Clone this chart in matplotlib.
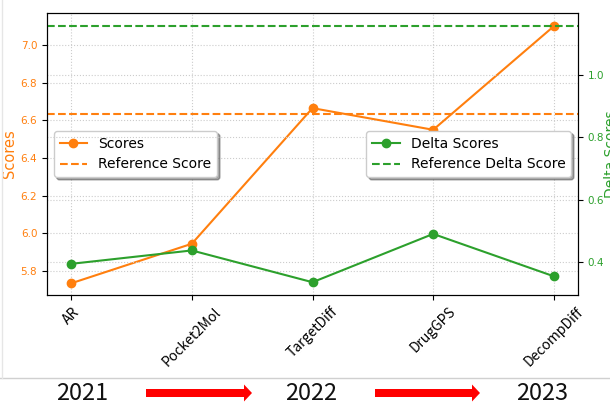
import matplotlib
matplotlib.use("Agg")
import matplotlib.pyplot as plt
from matplotlib.patches import FancyArrow
from matplotlib.lines import Line2D

models = ["AR", "Pocket2Mol", "TargetDiff", "DrugGPS", "DecompDiff"]
scores = [5.735, 5.945, 6.665, 6.55, 7.10]
delta_scores = [0.394, 0.437, 0.335, 0.49, 0.354]
reference_score = 6.632
reference_delta = 1.157
years = ["2021", "2022", "2023"]

orange = "#ff7f0e"
green = "#2ca02c"

fig = plt.figure(figsize=(6.1, 4.07), dpi=100)
ax = fig.add_axes([47/610, 1-295/407, 531/610, 282/407])
x = list(range(len(models)))

l1, = ax.plot(x, scores, color=orange, marker="o", markersize=6, lw=1.5, label="Scores")
l2 = ax.axhline(reference_score, color=orange, ls="--", lw=1.5, label="Reference Score")
ax.set_ylim(5.673, 7.17)
ax.set_xlim(-0.2, 4.2)
ax.set_ylabel("Scores", color=orange, fontsize=10.5)
ax.yaxis.set_label_coords((17-47)/531, 0.5)
ax.tick_params(axis="y", labelcolor=orange, labelsize=7.5)
ax.set_yticks([5.8, 6.0, 6.2, 6.4, 6.6, 6.8, 7.0])
ax.set_xticks(x)
ax.set_xticklabels(models, rotation=45, fontsize=10, family=["Noto Sans CJK SC", "DejaVu Sans"])
ax.grid(True, ls=":", color="#cccccc", lw=0.8)

ax2 = ax.twinx()
l3, = ax2.plot(x, delta_scores, color=green, marker="o", markersize=6, lw=1.5, label="Delta Scores")
l4 = ax2.axhline(reference_delta, color=green, ls="--", lw=1.5, label="Reference Delta Score")
ax2.set_ylim(0.294, 1.199)
ax2.set_yticks([0.4, 0.6, 0.8, 1.0])
ax2.tick_params(axis="y", labelcolor=green, labelsize=7.5)
ax2.set_ylabel("Delta Scores", color=green, fontsize=10)
ax2.yaxis.set_label_coords((604-47)/531, 0.5)
ax2.grid(True, ls=":", color="#cccccc", lw=0.8)

ax.legend(handles=[l1, l2], loc="center left", fontsize=10, shadow=True, fancybox=True)
ax2.legend(handles=[l3, l4], loc="center right", fontsize=10, shadow=True, fancybox=True)

# separator and frame line
fig.add_artist(Line2D([0, 1], [1-378/407, 1-378/407], transform=fig.transFigure, color="#d0d0d0", lw=1))
fig.add_artist(Line2D([1.5/610, 1.5/610], [1-378/407, 1], transform=fig.transFigure, color="#e6e6e6", lw=1))

year_x = [82, 311, 542]
for yx, yr in zip(year_x, years):
    fig.text(yx/610, 1-393/407, yr, ha="center", va="center", fontsize=17,
             family=["Noto Sans CJK SC", "DejaVu Sans"], color="#111111")

for x0, x1 in [(146, 252), (375, 480)]:
    y0 = 1-393/407
    fig.add_artist(FancyArrow(x0/610, y0, (x1-x0)/610, 0, width=8/407,
                              head_width=17/407, head_length=8/610,
                              length_includes_head=True, transform=fig.transFigure,
                              color="#ff0000", lw=0))

fig.savefig("out.png", dpi=100)
